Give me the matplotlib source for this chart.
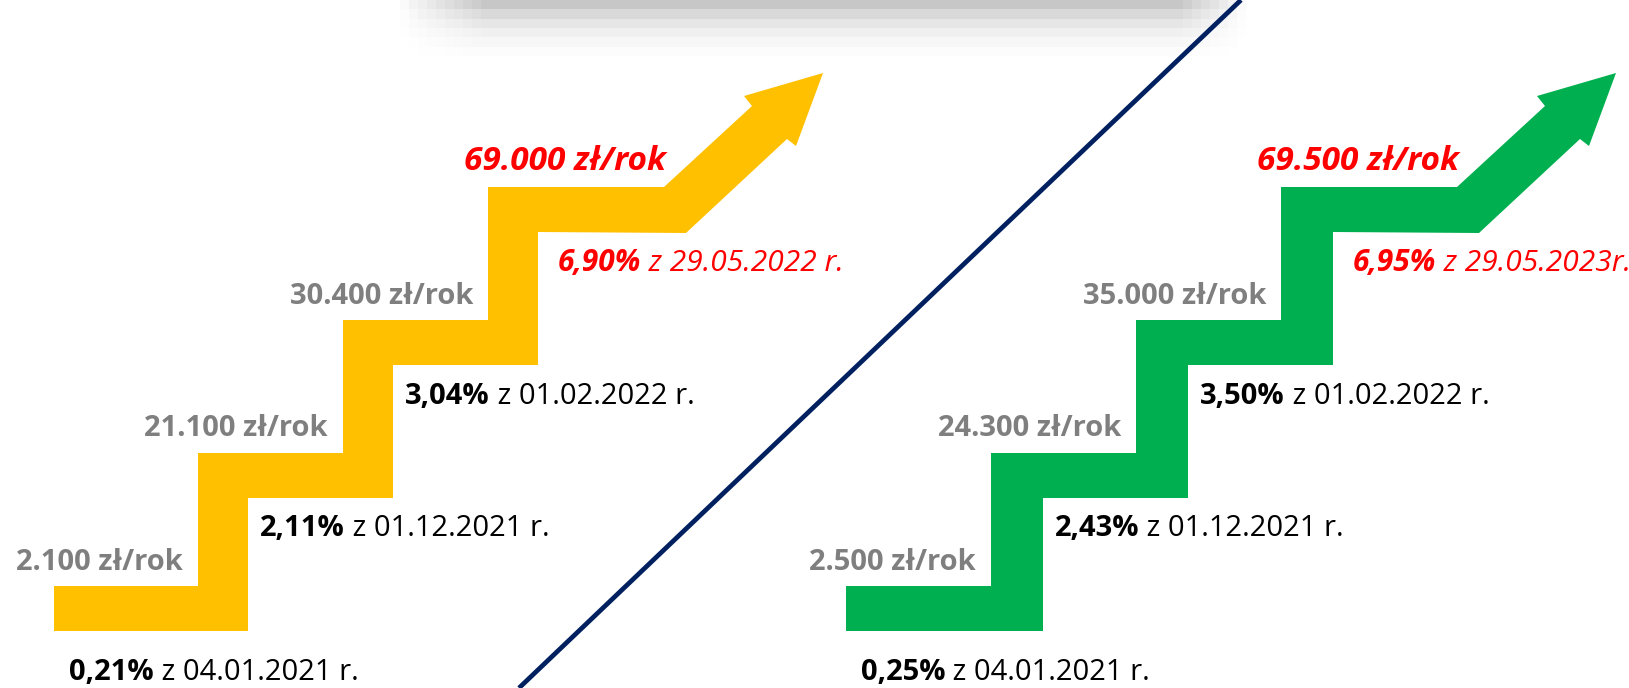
import numpy as np
import matplotlib.pyplot as plt
from matplotlib.patches import Polygon

plt.rcParams['font.family'] = ['Open Sans', 'DejaVu Sans']

# data: yearly amounts, rates and dates for the two staircases
amounts_left = ["2.100", "21.100", "30.400", "69.000"]
rates_left = ["0,21%", "2,11%", "3,04%", "6,90%"]
dates_left = ["04.01.2021 r.", "01.12.2021 r.", "01.02.2022 r.", "29.05.2022 r."]

amounts_right = ["2.500", "24.300", "35.000", "69.500"]
rates_right = ["0,25%", "2,43%", "3,50%", "6,95%"]
dates_right = ["04.01.2021 r.", "01.12.2021 r.", "01.02.2022 r.", "29.05.2023r."]

YELLOW = "#FFC000"
GREEN = "#00B050"
RED = "#FF0000"
GREY = "#7F7F7F"

W, H = 1629, 688
fig = plt.figure(figsize=(W / 100, H / 100), dpi=100)
ax = fig.add_axes([0, 0, 1, 1])
ax.set_xlim(0, W)
ax.set_ylim(H, 0)
ax.axis("off")

# blurred shadow band at the top
row_grey = np.array([0.78, 0.85, 0.90, 0.94, 0.965, 0.985])
ncol = 94
ramp = np.ones(ncol)
ramp[:10] = np.linspace(0.1, 1, 10)
ramp[-8:] = np.linspace(1, 0.1, 8)
shadow = 1 - np.outer(1 - row_grey, ramp)
ax.imshow(shadow, cmap="gray", vmin=0, vmax=1, interpolation="nearest",
          extent=(400, 1246, 56, 0), aspect="auto", zorder=0)

# divider line
ax.plot([1241, 519], [0, H], color="#002060", lw=3.4, solid_capstyle="butt", zorder=1)

# arrow head shape relative to the end of the top step
head = [(88, -81), (80, -91), (159, -114), (132, -41), (123, -48)]


def staircase(x0, first_run, run, riser_w, top_run, color, amounts, rates, dates,
              base=631, thick=45, rise=133):
    n = len(amounts)
    tops = [base - thick - i * rise for i in range(n)]
    risers = [x0 + first_run + i * run for i in range(n - 1)]
    xe = risers[-1] + top_run

    pts = [(x0, base), (x0, tops[0])]
    for i, rx in enumerate(risers):
        pts += [(rx, tops[i]), (rx, tops[i + 1])]
    pts.append((xe, tops[-1]))
    pts += [(xe + dx, tops[-1] + dy) for dx, dy in head]
    pts.append((xe + 22, tops[-1] + thick + 1))
    for i in range(len(risers) - 1, -1, -1):
        rx = risers[i] + riser_w
        pts += [(rx, tops[i + 1] + thick), (rx, tops[i] + thick)]
    ax.add_patch(Polygon(pts, closed=True, facecolor=color, edgecolor="none", zorder=2))

    # amount labels above each step
    for i in range(n - 1):
        ax.text(risers[i] - 15, tops[i] - 24, amounts[i] + " zł/rok", fontsize=21,
                fontweight="bold", color=GREY, ha="right", va="center")
    ax.text(xe + 2, tops[-1] - 26, amounts[-1] + " zł/rok", fontsize=24,
            fontweight="bold", style="italic", color=RED, ha="right", va="center")

    # rate labels below each step
    for i in range(n):
        last = i == n - 1
        if i == 0:
            x, y = x0 + 15, base + 42
        else:
            x, y = risers[i - 1] + riser_w + (20 if last else 12), tops[i] + thick + 31
        col = RED if last else "black"
        st = "italic" if last else "normal"
        size = 21.5 if last else 21
        t = ax.text(x, y, rates[i], fontsize=size, fontweight="bold", style=st,
                    color=col, ha="left", va="center")
        ax.annotate(" z " + dates[i], xy=(1, 0), xycoords=t, fontsize=size, style=st,
                    color=col, ha="left", va="bottom")


staircase(54, 144, 145, 50, 176, YELLOW, amounts_left, rates_left, dates_left)
staircase(846, 145, 145, 52, 176, GREEN, amounts_right, rates_right, dates_right)

fig.savefig("out.png", dpi=100)
